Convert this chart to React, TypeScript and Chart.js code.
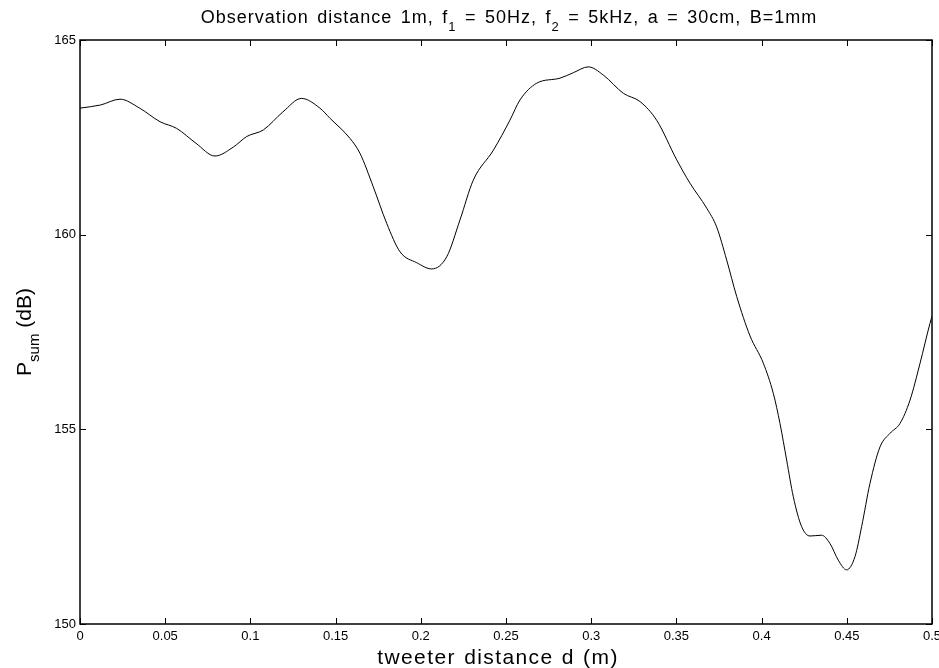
import React, { useEffect, useRef } from "react";
import { Chart, registerables } from "chart.js";

Chart.register(...registerables);

// ---- data ----
const distances: number[] = [
  0, 0.012, 0.0235, 0.035, 0.047, 0.0567, 0.068, 0.0792, 0.09, 0.0978,
  0.1076, 0.119, 0.13, 0.1408, 0.1467, 0.1585, 0.1643, 0.1721, 0.18, 0.1878,
  0.1976, 0.2064, 0.2152, 0.223, 0.2308, 0.2426, 0.2523, 0.2582, 0.268, 0.2817,
  0.2895, 0.2983, 0.3071, 0.3189, 0.3286, 0.3384, 0.3502, 0.358, 0.3678, 0.3736,
  0.3795, 0.3854, 0.3932, 0.401, 0.4069, 0.4108, 0.4147, 0.4186, 0.4235, 0.4284,
  0.4352, 0.4401, 0.445, 0.4499, 0.4548, 0.4587, 0.4636, 0.4695, 0.4754, 0.4812,
  0.4871, 0.493, 0.4988, 0.5,
];
const pressures: number[] = [
  163.25, 163.33, 163.48, 163.25, 162.9, 162.73, 162.35, 162.02, 162.25, 162.52,
  162.69, 163.15, 163.5, 163.25, 162.99, 162.47, 162.09, 161.23, 160.29, 159.56,
  159.28, 159.12, 159.43, 160.38, 161.4, 162.17, 162.94, 163.46, 163.89, 164.02,
  164.16, 164.31, 164.1, 163.63, 163.42, 162.94, 161.92, 161.32, 160.68, 160.2,
  159.35, 158.41, 157.4, 156.7, 155.92, 155.15, 154.21, 153.27, 152.5, 152.26,
  152.28, 152.07, 151.64, 151.39, 151.73, 152.5, 153.61, 154.55, 154.9, 155.15,
  155.75, 156.7, 157.72, 157.9,
];
const xRange: number[] = [0, 0.5];
const xStep = 0.05;
const yRange: number[] = [150, 165];
const yStep = 5;

type Part = { t: string; sub?: boolean };
const titleParts: Part[] = [
  { t: "Observation distance 1m, f" },
  { t: "1", sub: true },
  { t: " = 50Hz, f" },
  { t: "2", sub: true },
  { t: " = 5kHz, a = 30cm, B=1mm" },
];
const xLabel = "tweeter distance d (m)";
const yLabelParts: Part[] = [{ t: "P" }, { t: "sum", sub: true }, { t: " (dB)" }];

const FONT = "'Liberation Sans', Arial, Helvetica, sans-serif";

function setSpacing(ctx: any, letter: number, word: number) {
  ctx.letterSpacing = `${letter}px`;
  ctx.wordSpacing = `${word}px`;
}

function drawParts(
  ctx: CanvasRenderingContext2D,
  parts: Part[],
  cx: number,
  baseline: number,
  size: number,
  subSize: number,
  subDrop: number
) {
  const widths = parts.map((p) => {
    ctx.font = `${p.sub ? subSize : size}px ${FONT}`;
    return ctx.measureText(p.t).width;
  });
  const total = widths.reduce((a, b) => a + b, 0);
  let x = cx - total / 2;
  ctx.textAlign = "left";
  ctx.textBaseline = "alphabetic";
  parts.forEach((p, i) => {
    ctx.font = `${p.sub ? subSize : size}px ${FONT}`;
    ctx.fillText(p.t, x, baseline + (p.sub ? subDrop : 0));
    x += widths[i];
  });
}

const framePlugin = {
  id: "matlabFrame",
  afterDraw(chart: any) {
    const { ctx, chartArea, scales } = chart;
    const { left, right, top, bottom } = chartArea;
    const xs = scales.x;
    const ys = scales.y;
    ctx.save();
    ctx.strokeStyle = "#000";
    ctx.lineWidth = 1;
    const tl = 6;
    ctx.beginPath();
    xs.ticks.forEach((t: any) => {
      const px = Math.round(xs.getPixelForValue(t.value)) + 0.5;
      ctx.moveTo(px, bottom);
      ctx.lineTo(px, bottom - tl);
      ctx.moveTo(px, top);
      ctx.lineTo(px, top + tl);
    });
    ys.ticks.forEach((t: any) => {
      const py = Math.round(ys.getPixelForValue(t.value)) + 0.5;
      ctx.moveTo(left, py);
      ctx.lineTo(left + tl, py);
      ctx.moveTo(right, py);
      ctx.lineTo(right - tl, py);
    });
    ctx.stroke();
    ctx.lineWidth = 1.5;
    ctx.strokeRect(left, top, right - left, bottom - top);

    ctx.fillStyle = "#000";
    const cx = (left + right) / 2;
    // title
    setSpacing(ctx, 1.0, 2.5);
    drawParts(ctx, titleParts, cx + 3, 23, 18, 13, 8);
    // x label
    setSpacing(ctx, 1.4, 1);
    ctx.font = `21px ${FONT}`;
    ctx.textAlign = "center";
    ctx.textBaseline = "alphabetic";
    ctx.fillText(xLabel, cx - 8, 664);
    // y label
    setSpacing(ctx, 0, 2);
    ctx.save();
    ctx.translate(31, (top + bottom) / 2);
    ctx.rotate(-Math.PI / 2);
    drawParts(ctx, yLabelParts, 0, 0, 21, 15, 8);
    ctx.restore();
    setSpacing(ctx, 0, 0);
    ctx.restore();
  },
};

function fmt(v: number) {
  return String(Math.round(v * 100) / 100);
}

export default function App() {
  const ref = useRef<HTMLCanvasElement | null>(null);
  useEffect(() => {
    document.body.style.margin = "0";
    const canvas = ref.current;
    if (!canvas) return;
    const data = distances.map((d, i) => ({ x: d, y: pressures[i] }));
    const chart = new Chart(canvas, {
      type: "line",
      data: {
        datasets: [
          {
            data,
            borderColor: "#000",
            borderWidth: 1,
            pointRadius: 0,
            fill: false,
            cubicInterpolationMode: "monotone",
          },
        ],
      },
      options: {
        animation: false,
        responsive: false,
        devicePixelRatio: 1,
        layout: { padding: { top: 40, right: 7, left: 0, bottom: 0 } },
        plugins: {
          legend: { display: false },
          tooltip: { enabled: false },
          title: { display: false },
        },
        scales: {
          x: {
            type: "linear",
            min: xRange[0],
            max: xRange[1],
            grid: { display: false, drawTicks: false },
            border: { display: false },
            ticks: {
              stepSize: xStep,
              padding: 5,
              color: "#000",
              font: { family: FONT, size: 13 },
              maxRotation: 0,
              autoSkip: false,
              callback: (v: any) => fmt(Number(v)),
            },
            afterFit: (s: any) => {
              s.height = 44;
              s.paddingLeft = 0;
              s.paddingRight = 0;
            },
          },
          y: {
            type: "linear",
            min: yRange[0],
            max: yRange[1],
            grid: { display: false, drawTicks: false },
            border: { display: false },
            ticks: {
              stepSize: yStep,
              padding: 4,
              color: "#000",
              font: { family: FONT, size: 13 },
              callback: (v: any) => String(v),
            },
            afterFit: (s: any) => {
              s.width = 80;
              s.paddingTop = 0;
              s.paddingBottom = 0;
            },
          },
        },
      },
      plugins: [framePlugin],
    } as any);
    return () => chart.destroy();
  }, []);
  return (
    <div style={{ position: "absolute", left: 0, top: 0, width: 939, height: 668, background: "#fff" }}>
      <canvas ref={ref} width={939} height={668} style={{ display: "block" }} />
    </div>
  );
}
